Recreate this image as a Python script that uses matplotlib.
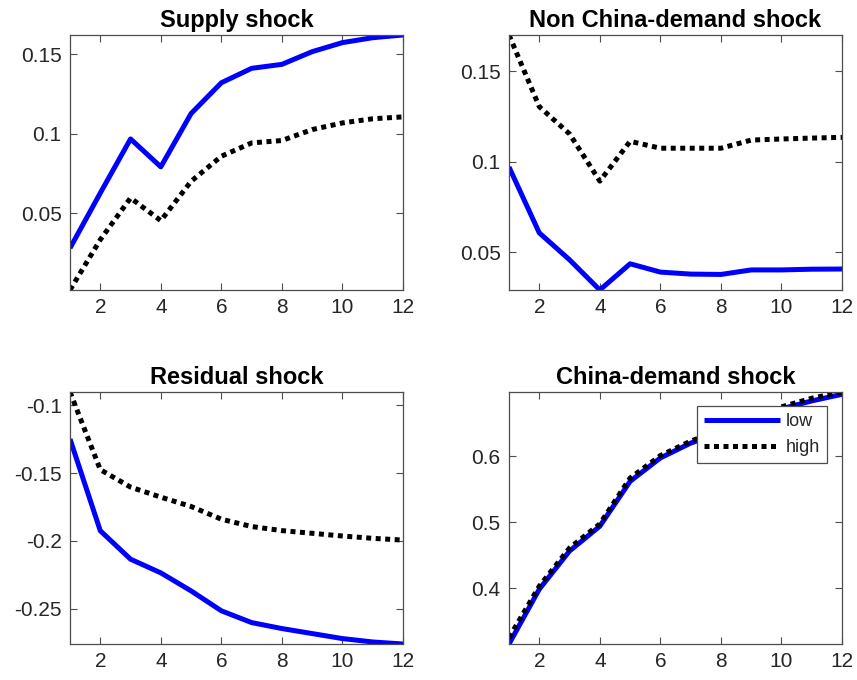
import matplotlib
matplotlib.use("Agg")
import matplotlib.pyplot as plt
import numpy as np

plt.rcParams['font.family'] = ['Liberation Sans', 'DejaVu Sans']

horizon = list(range(1, 13))

supply_low = [0.0279, 0.0626, 0.0967, 0.0791, 0.1127, 0.1321, 0.1412, 0.1437, 0.1517, 0.1574, 0.1605, 0.1622]
supply_high = [0.0015, 0.0332, 0.0595, 0.0452, 0.0700, 0.0858, 0.0942, 0.0957, 0.1026, 0.1068, 0.1094, 0.1106]

nonchina_low = [0.0970, 0.0606, 0.0457, 0.0290, 0.0435, 0.0389, 0.0378, 0.0376, 0.0401, 0.0401, 0.0405, 0.0406]
nonchina_high = [0.1700, 0.1304, 0.1153, 0.0892, 0.1112, 0.1074, 0.1074, 0.1074, 0.1119, 0.1125, 0.1130, 0.1134]

residual_low = [-0.1249, -0.1926, -0.2136, -0.2237, -0.2370, -0.2517, -0.2604, -0.2648, -0.2685, -0.2722, -0.2747, -0.2762]
residual_high = [-0.0902, -0.1475, -0.1604, -0.1678, -0.1747, -0.1841, -0.1895, -0.1925, -0.1945, -0.1965, -0.1982, -0.1995]

china_low = [0.3154, 0.3985, 0.4564, 0.4940, 0.5620, 0.5975, 0.6200, 0.6360, 0.6570, 0.6720, 0.6840, 0.6940]
china_high = [0.3250, 0.4030, 0.4610, 0.4975, 0.5670, 0.6010, 0.6230, 0.6400, 0.6590, 0.6750, 0.6880, 0.6975]

titles = ["Supply shock", "Non China-demand shock", "Residual shock", "China-demand shock"]
series_low = [supply_low, nonchina_low, residual_low, china_low]
series_high = [supply_high, nonchina_high, residual_high, china_high]
yticks = [[0.05, 0.1, 0.15], [0.05, 0.1, 0.15], [-0.25, -0.2, -0.15, -0.1], [0.4, 0.5, 0.6]]
yticklabels = [["0.05", "0.1", "0.15"], ["0.05", "0.1", "0.15"],
               ["-0.25", "-0.2", "-0.15", "-0.1"], ["0.4", "0.5", "0.6"]]
xticks = [2, 4, 6, 8, 10, 12]

fig = plt.figure(figsize=(8.57, 6.8), dpi=100)
W, H = 857, 680
boxes = [(70, 35, 403, 290), (509, 35, 842, 290), (70, 392, 403, 644), (509, 392, 842, 644)]

spine_c = '#4d4d4d'
text_c = '#262626'
for i, (x0, y0, x1, y1) in enumerate(boxes):
    ax = fig.add_axes([x0 / W, 1 - y1 / H, (x1 - x0) / W, (y1 - y0) / H])
    lo, = ax.plot(horizon, series_low[i], color='#0000ff', lw=3.6, solid_capstyle='butt', label='low')
    hi, = ax.plot(horizon, series_high[i], color='black', lw=3.6, linestyle=(0, (1, 0.9)),
                  dash_capstyle='butt', label='high')
    allv = np.concatenate([series_low[i], series_high[i]])
    ax.set_xlim(1, 12)
    ax.set_ylim(allv.min(), allv.max())
    ax.set_xticks(xticks)
    ax.set_xticklabels([str(t) for t in xticks])
    ax.set_yticks(yticks[i])
    ax.set_yticklabels(yticklabels[i])
    ax.tick_params(direction='in', length=5, width=0.8, colors=spine_c, labelcolor=text_c,
                   labelsize=15, top=True, right=True, pad=6)
    for s in ax.spines.values():
        s.set_color(spine_c)
        s.set_linewidth(0.9)
    ax.set_title(titles[i], fontsize=17, fontweight='bold', color='black', pad=5.5)
    if i == 3:
        leg = ax.legend(loc='upper right', bbox_to_anchor=((827 - x0) / (x1 - x0), 1 - (406 - y0) / (y1 - y0)),
                        fontsize=13, handlelength=4.2, handletextpad=0.3, borderpad=0.4,
                        labelspacing=0.5, fancybox=False, framealpha=1, borderaxespad=0)
        leg.get_frame().set_edgecolor(spine_c)
        leg.get_frame().set_linewidth(0.9)
        for t in leg.get_texts():
            t.set_color(text_c)

fig.savefig("out.png", dpi=100)
